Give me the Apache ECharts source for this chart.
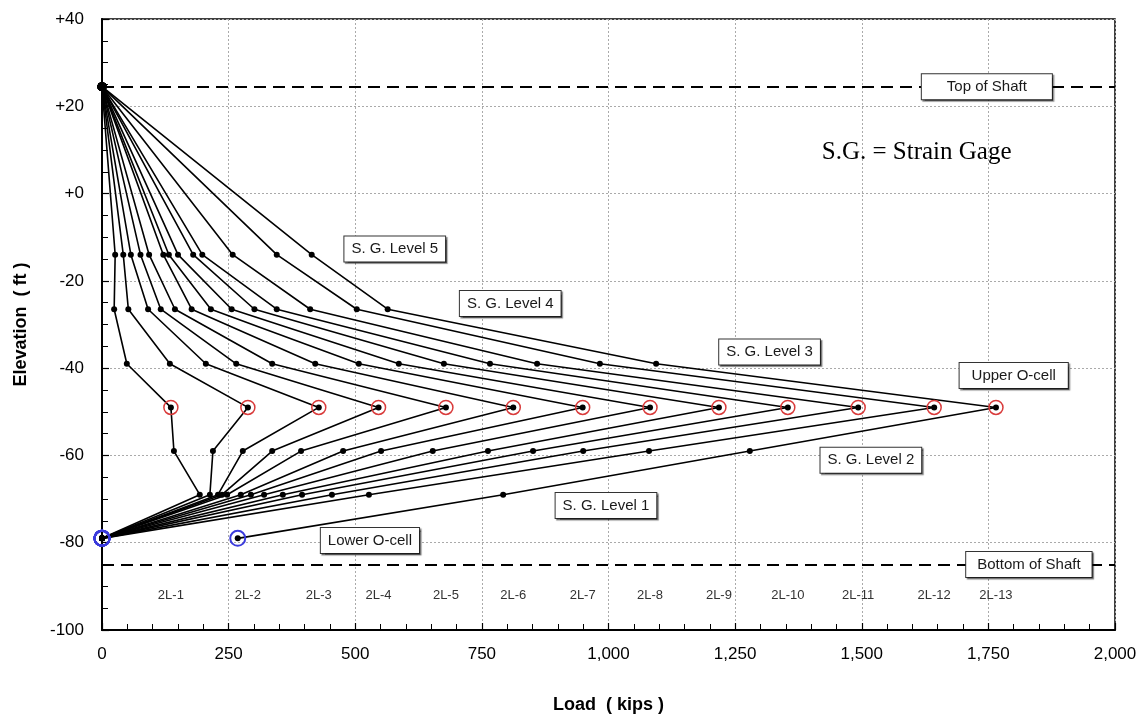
<!DOCTYPE html>
<html>
<head>
<meta charset="utf-8">
<script src="https://cdn.jsdelivr.net/npm/echarts@6/dist/echarts.min.js"></script>
<style>
  html, body { margin: 0; padding: 0; background: #fff; }
  #chart { width: 1146px; height: 719px; }
</style>
</head>
<body>
<div id="chart"></div>
<script>
// Elevations (ft) of the shaft ends, strain gage levels and O-cells
const ELEV_TOP_OF_SHAFT = 24.5;
const ELEV_BOTTOM_OF_SHAFT = -85;
const ELEV_SG5 = -14;
const ELEV_SG4 = -26.5;
const ELEV_SG3 = -39;
const ELEV_UPPER_OCELL = -49;
const ELEV_SG2 = -59;
const ELEV_SG1 = -69;
const ELEV_LOWER_OCELL = -79;

// Load steps of the upper O-cell test
const loadSteps = ['2L-1', '2L-2', '2L-3', '2L-4', '2L-5', '2L-6', '2L-7',
                   '2L-8', '2L-9', '2L-10', '2L-11', '2L-12', '2L-13'];

// Load (kips) at each level, one entry per load step
const loadTop         = [0, 0, 0, 0, 0, 0, 0, 0, 0, 0, 0, 0, 0];
const loadSG5         = [26, 42, 57, 76, 93, 121, 132, 150, 180, 198, 258, 345, 414];
const loadSG4         = [24, 52, 91, 116, 144, 177, 215, 256, 301, 345, 411, 503, 564];
const loadSG3         = [49, 134, 205, 265, 336, 421, 507, 586, 675, 766, 859, 983, 1094];
const loadUpperOcell  = [136, 288, 428, 546, 679, 812, 949, 1082, 1218, 1354, 1493, 1643, 1765];
const loadSG2         = [142, 219, 278, 336, 393, 476, 551, 653, 762, 851, 950, 1080, 1279];
const loadSG1         = [193, 213, 229, 237, 247, 274, 294, 320, 357, 395, 454, 527, 792];
const loadLowerOcell  = [0, 0, 0, 0, 0, 0, 0, 0, 0, 0, 0, 0, 268];

// Axis ticks
const xTicks = { min: 0, max: 2000, interval: 250 };
const yTicks = { min: -100, max: 40, interval: 20 };

// ---- layout of the callouts (data units) ----
const STEP_LABEL_ELEV = -92;
const callouts = [
  { text: 'Top of Shaft',    at: [1747, ELEV_TOP_OF_SHAFT],    padH: 25 },
  { text: 'Bottom of Shaft', at: [1830, ELEV_BOTTOM_OF_SHAFT], padH: 11 },
  { text: 'S. G. Level 5',   at: [578, -12.7],  padH: 7 },
  { text: 'S. G. Level 4',   at: [806, -25.2],  padH: 7 },
  { text: 'S. G. Level 3',   at: [1318, -36.3], padH: 7 },
  { text: 'Upper O-cell',    at: [1800, -41.7], padH: 12 },
  { text: 'S. G. Level 2',   at: [1518, -61.1], padH: 7 },
  { text: 'S. G. Level 1',   at: [995, -71.5],  padH: 7 },
  { text: 'Lower O-cell',    at: [529, -79.5],  padH: 7 }
];
const NOTE_TEXT = 'S.G. = Strain Gage';
const NOTE_AT = [1421, 9.4];

const FONT = "'Liberation Sans', Arial, Helvetica, sans-serif";

// One load-distribution curve per load step, top of shaft down to the lower O-cell
const curveSeries = loadSteps.map((name, i) => ({
  type: 'line',
  name: name,
  data: [
    [loadTop[i], ELEV_TOP_OF_SHAFT],
    [loadSG5[i], ELEV_SG5],
    [loadSG4[i], ELEV_SG4],
    [loadSG3[i], ELEV_SG3],
    [loadUpperOcell[i], ELEV_UPPER_OCELL],
    [loadSG2[i], ELEV_SG2],
    [loadSG1[i], ELEV_SG1],
    [loadLowerOcell[i], ELEV_LOWER_OCELL]
  ],
  symbol: 'circle',
  symbolSize: 6,
  showSymbol: true,
  showAllSymbol: true,
  smooth: false,
  clip: false,
  silent: true,
  lineStyle: { color: '#000', width: 1.6 },
  itemStyle: { color: '#000', opacity: 1 },
  z: 3
}));

// Rings marking the upper O-cell on every curve
const upperRingSeries = {
  type: 'scatter',
  data: loadUpperOcell.map(v => [v, ELEV_UPPER_OCELL]),
  symbol: 'circle',
  symbolSize: 14,
  clip: false,
  silent: true,
  itemStyle: { color: 'rgba(0,0,0,0)', borderColor: '#d93b3b', borderWidth: 1.5, opacity: 1 },
  z: 4
};

// Rings marking the lower O-cell
const lowerRingSeries = {
  type: 'scatter',
  data: loadLowerOcell.map(v => [v, ELEV_LOWER_OCELL]),
  symbol: 'circle',
  symbolSize: 15,
  clip: false,
  silent: true,
  itemStyle: { color: 'rgba(0,0,0,0)', borderColor: '#3b3bdc', borderWidth: 2, opacity: 1 },
  z: 4
};

// Common top-of-shaft point
const topPointSeries = {
  type: 'scatter',
  data: loadTop.map(v => [v, ELEV_TOP_OF_SHAFT]),
  symbol: 'circle',
  symbolSize: 9,
  clip: false,
  silent: true,
  itemStyle: { color: '#000', opacity: 1 },
  z: 5
};

// Dashed reference lines at the top and bottom of the shaft
const shaftLineSeries = {
  type: 'line',
  data: [],
  silent: true,
  markLine: {
    silent: true,
    symbol: 'none',
    animation: false,
    label: { show: false },
    lineStyle: { color: '#000', width: 2, type: [12, 7] },
    emphasis: { disabled: true },
    data: [{ yAxis: ELEV_TOP_OF_SHAFT }, { yAxis: ELEV_BOTTOM_OF_SHAFT }]
  },
  z: 2
};

// Transparent anchor used by the text-only series
const anchorStyle = { color: 'rgba(0,0,0,0)', opacity: 1 };

// Boxed callouts
const calloutSeries = {
  type: 'scatter',
  symbol: 'circle',
  symbolSize: 1,
  clip: false,
  silent: true,
  itemStyle: anchorStyle,
  z: 10,
  data: callouts.map(c => ({
    value: c.at,
    label: {
      show: true,
      position: 'inside',
      formatter: c.text,
      fontFamily: FONT,
      fontSize: 15,
      lineHeight: 17,
      color: '#1a1a1a',
      backgroundColor: '#fff',
      borderColor: '#333',
      borderWidth: 1,
      padding: [4, c.padH],
      shadowColor: 'rgba(0,0,0,0.45)',
      shadowOffsetX: 1.5,
      shadowOffsetY: 1.5,
      shadowBlur: 1
    }
  }))
};

// Load step names under each curve
const stepLabelSeries = {
  type: 'scatter',
  symbol: 'circle',
  symbolSize: 1,
  clip: false,
  silent: true,
  itemStyle: anchorStyle,
  z: 10,
  data: loadSteps.map((name, i) => ({
    value: [loadUpperOcell[i], STEP_LABEL_ELEV],
    label: {
      show: true,
      position: 'inside',
      formatter: name,
      fontFamily: FONT,
      fontSize: 13,
      color: '#333'
    }
  }))
};

// Abbreviation note
const noteSeries = {
  type: 'scatter',
  symbol: 'circle',
  symbolSize: 1,
  clip: false,
  silent: true,
  itemStyle: anchorStyle,
  z: 10,
  data: [{
    value: NOTE_AT,
    label: {
      show: true,
      position: 'inside',
      align: 'left',
      verticalAlign: 'middle',
      formatter: NOTE_TEXT,
      fontFamily: "'Liberation Serif', 'Times New Roman', serif",
      fontSize: 25,
      color: '#000'
    }
  }]
};

const chart = echarts.init(document.getElementById('chart'), null, { renderer: 'canvas' });

chart.setOption({
  animation: false,
  backgroundColor: '#fff',
  grid: {
    left: 102, right: 31, top: 19, bottom: 87,
    show: true, borderColor: '#000', borderWidth: 1.5, backgroundColor: '#fff'
  },
  xAxis: {
    type: 'value',
    min: xTicks.min, max: xTicks.max, interval: xTicks.interval,
    name: 'Load  ( kips )',
    nameLocation: 'middle',
    nameGap: 66,
    nameTextStyle: { fontFamily: FONT, fontWeight: 'bold', fontSize: 18, color: '#000' },
    axisLine: { show: true, onZero: false, lineStyle: { color: '#000', width: 2 } },
    axisTick: { show: true, inside: true, length: 7, lineStyle: { color: '#000', width: 1.2 } },
    minorTick: { show: true, splitNumber: 5, length: 6, lineStyle: { color: '#000', width: 1 } },
    splitLine: { show: true, lineStyle: { color: '#aaa', width: 1, type: [2, 2] } },
    axisLabel: {
      margin: 16,
      fontFamily: FONT, fontSize: 17, color: '#000',
      formatter: v => v.toLocaleString('en-US')
    }
  },
  yAxis: {
    type: 'value',
    min: yTicks.min, max: yTicks.max, interval: yTicks.interval,
    name: 'Elevation  ( ft )',
    nameLocation: 'middle',
    nameGap: 72,
    nameTextStyle: { fontFamily: FONT, fontWeight: 'bold', fontSize: 18, color: '#000' },
    axisLine: { show: true, onZero: false, lineStyle: { color: '#000', width: 2 } },
    axisTick: { show: true, inside: true, length: 7, lineStyle: { color: '#000', width: 1.2 } },
    minorTick: { show: true, splitNumber: 4, length: 6, lineStyle: { color: '#000', width: 1 } },
    splitLine: { show: true, lineStyle: { color: '#aaa', width: 1, type: [2, 2] } },
    axisLabel: {
      margin: 18,
      fontFamily: FONT, fontSize: 17, color: '#000',
      formatter: v => (v > 0 ? '+' + v : (v === 0 ? '+0' : String(v)))
    }
  },
  series: [
    shaftLineSeries,
    ...curveSeries,
    upperRingSeries,
    lowerRingSeries,
    topPointSeries,
    calloutSeries,
    stepLabelSeries,
    noteSeries
  ]
});
</script>
</body>
</html>
